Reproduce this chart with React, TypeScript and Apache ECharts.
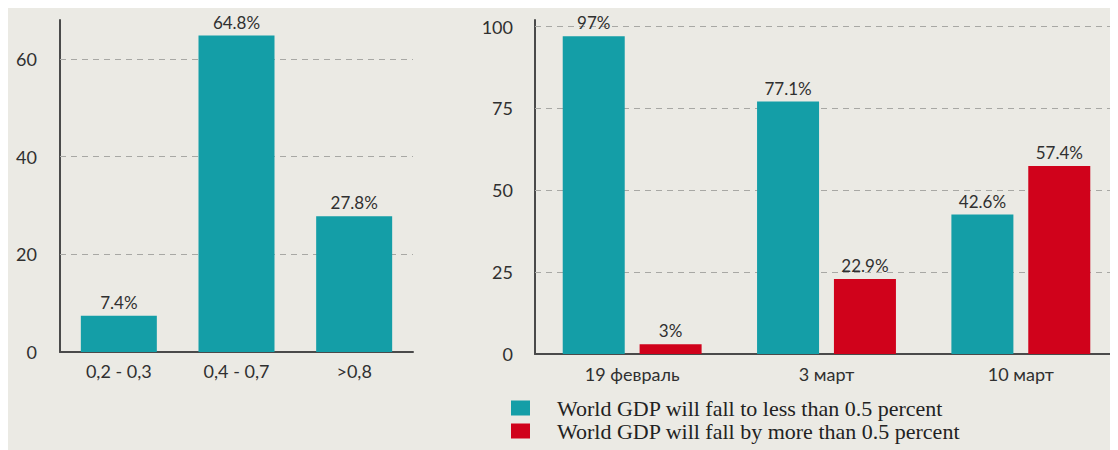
import React, { useEffect, useRef } from "react";
import * as echarts from "echarts";

const LEFT_CATEGORIES = ["0,2 - 0,3", "0,4 - 0,7", ">0,8"];
const LEFT_VALUES = [7.4, 64.8, 27.8];
const LEFT_TICKS = [0, 20, 40, 60];

const RIGHT_CATEGORIES = ["19 февраль", "3 март", "10 март"];
const LESS_VALUES = [97, 77.1, 42.6];
const MORE_VALUES = [3, 22.9, 57.4];
const RIGHT_TICKS = [0, 25, 50, 75, 100];

const LESS_NAME = "World GDP will fall to less than 0.5 percent";
const MORE_NAME = "World GDP will fall by more than 0.5 percent";

const TEAL = "#149ea7";
const RED = "#d0021b";
const TEXT = "#303030";
const AXIS = "#4a4a4a";
const SANS = "Lato, 'Noto Sans', sans-serif";

function gridMarkLine(ticks: number[]) {
  return {
    silent: true,
    symbol: ["none", "none"],
    z: 1,
    label: { show: false },
    lineStyle: { color: "#a8a8a4", type: [6, 5], width: 1 },
    data: ticks.filter((t) => t !== 0).map((t) => ({ yAxis: t })),
  };
}

function tickFormatter(ticks: number[]) {
  return (v: number) => (ticks.includes(v) ? String(v) : "");
}

export default function App() {
  const ref = useRef<HTMLDivElement>(null);
  useEffect(() => {
    if (!ref.current) return;
    const chart = echarts.init(ref.current, null, { renderer: "svg" });
    const pct = (p: any) => `${p.value}%`;
    const labelStyle = {
      show: true,
      position: "top",
      distance: 5,
      color: TEXT,
      fontFamily: SANS,
      fontSize: 17,
      formatter: pct,
    };
    const axisLabelBase = { color: TEXT, fontFamily: SANS, fontSize: 18 };
    chart.setOption({
      animation: false,
      backgroundColor: "transparent",
      grid: [
        { left: 52, top: 12, width: 353, height: 332 },
        { left: 527, top: 12, width: 583, height: 334 },
      ],
      xAxis: [
        {
          type: "category",
          gridIndex: 0,
          data: LEFT_CATEGORIES,
          axisLine: { lineStyle: { color: AXIS, width: 2 } },
          axisTick: { show: false },
          axisLabel: { ...axisLabelBase, margin: 10 },
        },
        {
          type: "category",
          gridIndex: 1,
          data: RIGHT_CATEGORIES,
          axisLine: { lineStyle: { color: AXIS, width: 2 } },
          axisTick: { show: false },
          axisLabel: { ...axisLabelBase, margin: 11 },
        },
      ],
      yAxis: [
        {
          type: "value",
          gridIndex: 0,
          min: 0,
          max: 68,
          interval: 20,
          axisLine: { show: true, lineStyle: { color: AXIS, width: 2 } },
          axisTick: { show: false },
          splitLine: { show: false },
          axisLabel: {
            ...axisLabelBase,
            margin: 23,
            formatter: tickFormatter(LEFT_TICKS),
          },
        },
        {
          type: "value",
          gridIndex: 1,
          min: 0,
          max: 102,
          interval: 25,
          axisLine: { show: true, lineStyle: { color: AXIS, width: 2 } },
          axisTick: { show: false },
          splitLine: { show: false },
          axisLabel: {
            ...axisLabelBase,
            margin: 22,
            formatter: tickFormatter(RIGHT_TICKS),
          },
        },
      ],
      legend: {
        data: [LESS_NAME, MORE_NAME],
        orient: "vertical",
        left: 503,
        top: 389,
        padding: 0,
        itemWidth: 19,
        itemHeight: 15,
        itemGap: 1,
        icon: "rect",
        selectedMode: false,
        textStyle: {
          color: "#222222",
          fontFamily: "'Liberation Serif', 'Times New Roman', serif",
          fontSize: 22,
          lineHeight: 21,
          padding: [0, 0, 0, 22],
        },
      },
      series: [
        {
          name: "left",
          type: "bar",
          xAxisIndex: 0,
          yAxisIndex: 0,
          data: LEFT_VALUES,
          barWidth: 76,
          z: 2,
          itemStyle: { color: TEAL },
          label: labelStyle,
          markLine: gridMarkLine(LEFT_TICKS),
        },
        {
          name: LESS_NAME,
          type: "bar",
          xAxisIndex: 1,
          yAxisIndex: 1,
          data: LESS_VALUES,
          barWidth: 62,
          barGap: "24%",
          z: 2,
          itemStyle: { color: TEAL },
          label: labelStyle,
          markLine: gridMarkLine(RIGHT_TICKS),
        },
        {
          name: MORE_NAME,
          type: "bar",
          xAxisIndex: 1,
          yAxisIndex: 1,
          data: MORE_VALUES,
          barWidth: 62,
          barGap: "24%",
          z: 2,
          itemStyle: { color: RED },
          label: labelStyle,
        },
      ],
    });
    return () => chart.dispose();
  }, []);
  return (
    <div
      ref={ref}
      style={{ width: 1110, height: 442, background: "#ebeae4" }}
    />
  );
}
